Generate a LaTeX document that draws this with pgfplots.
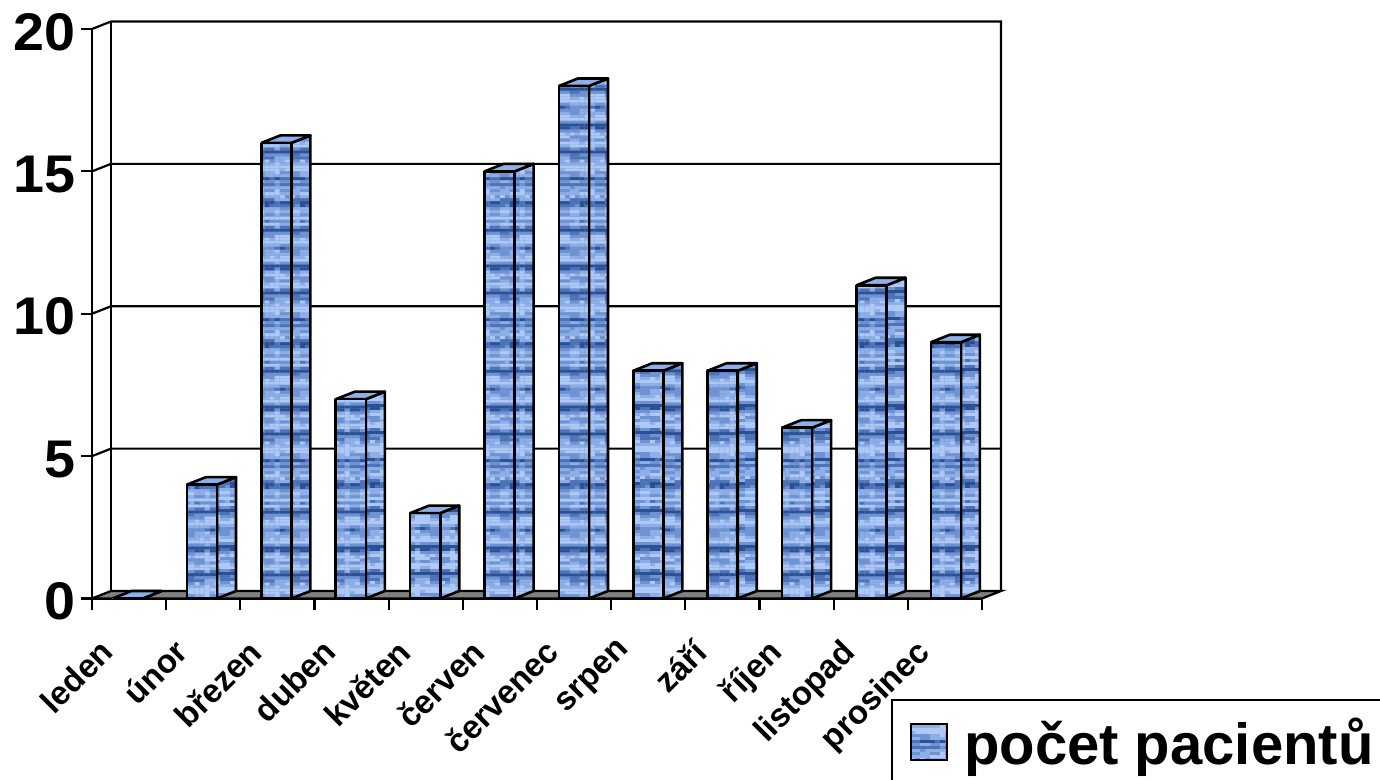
\documentclass[border=0pt]{standalone}
\usepackage{fontspec}
\setmainfont{Liberation Sans}
\newfontfamily\widefont[FakeStretch=1.05]{Liberation Sans}
\usepackage{pgfplots}
\usepackage{pgfplotstable}
\usetikzlibrary{patterns}
\pgfplotsset{compat=1.18}

% Monthly patient counts
\pgfplotstableread{
idx count
0   0
1   4
2   16
3   7
4   3
5   15
6   18
7   8
8   8
9   6
10  11
11  9
}\patients

% Mottled blue fill, built from small blocks with horizontal streaks
\definecolor{tex0}{HTML}{2B5094}
\definecolor{tex1}{HTML}{4C73B6}
\definecolor{tex2}{HTML}{6F93D2}
\definecolor{tex3}{HTML}{8DAEE6}
\definecolor{tex4}{HTML}{AFC9F6}
\pgfdeclarepatterninherentlycolored{mottle}{\pgfpointorigin}{\pgfpoint{35pt}{141pt}}{\pgfpoint{35pt}{141pt}}{%
  \pgfsetfillcolor{tex2}%
  \pgfpathrectangle{\pgfpointorigin}{\pgfpoint{35pt}{141pt}}%
  \pgfusepath{fill}%
  \foreach \r/\b in {0/3,1/4,2/2,3/1,4/0,5/2,6/3,7/4,8/3,9/3,10/1,11/2,12/0,13/2,14/3,15/4,16/4,17/3,18/3,19/2,20/1,21/0,22/2,23/3,24/4,25/2,26/3,27/4,28/3,29/1,30/0,31/2,32/4,33/3,34/2,35/3,36/1,37/2,38/4,39/4,40/3,41/1,42/0,43/2,44/3,45/2,46/4}{%
    \foreach \c in {0,...,6}{%
      \pgfmathtruncatemacro{\cc}{int(\c/2)}%
      \pgfmathtruncatemacro{\rr}{mod(\r*\r,50)}%
      \pgfmathtruncatemacro{\m}{mod(\cc*\cc*\cc*11+\rr*7+\cc*\r*23+3*\cc+\r+\c*(mod(\r,3)==0),7)}%
      \pgfmathtruncatemacro{\shade}{max(0,min(4,\b+int((\m+1)/3)-1))}%
      \pgfsetfillcolor{tex\shade}%
      \pgfpathrectangle{\pgfpoint{\c*5pt}{\r*3pt}}{\pgfpoint{5pt}{3pt}}%
      \pgfusepath{fill}%
    }%
  }%
}

\definecolor{floorgray}{HTML}{808080}
\definecolor{topblue}{HTML}{8FAFE8}

\pgfplotsset{
  frameline/.style={draw=black,line width=2.2pt,forget plot},
  underlay/.style={fill=tex2,draw=none,forget plot},
  face/.style={draw=black,line width=2.6pt,line join=round,pattern=mottle,forget plot},
  topface/.style={draw=black,line width=2.6pt,line join=round,fill=topblue,forget plot},
}

% Depth of the chart floor and of each column, in axis units
\newcommand{\depthx}{0.256}
\newcommand{\depthy}{0.263}

% One column: slot index and height
\newcommand{\drawcolumn}[2]{%
  \pgfmathsetmacro{\xa}{#1*1.003+0.278}%
  \pgfmathsetmacro{\xb}{\xa+0.405}%
  \pgfmathsetmacro{\xc}{\xb+\depthx}%
  \pgfmathsetmacro{\xd}{\xa+\depthx}%
  \pgfmathsetmacro{\yb}{#2+\depthy}%
  \addplot[underlay] coordinates {(\xb,0) (\xc,\depthy) (\xc,\yb) (\xb,#2) (\xb,0)};
  \addplot[face] coordinates {(\xb,0) (\xc,\depthy) (\xc,\yb) (\xb,#2) (\xb,0)};
  \addplot[topface] coordinates {(\xa,#2) (\xb,#2) (\xc,\yb) (\xd,\yb) (\xa,#2)};
  \addplot[underlay] coordinates {(\xa,0) (\xb,0) (\xb,#2) (\xa,#2) (\xa,0)};
  \addplot[face] coordinates {(\xa,0) (\xb,0) (\xb,#2) (\xa,#2) (\xa,0)};
}

\begin{document}
\begin{tikzpicture}[x=1pt,y=1pt]
\path[use as bounding box,clip] (0,0) rectangle (1380,779);
\begin{axis}[
  at={(92pt,180.5pt)},anchor=south west,
  scale only axis,width=890pt,height=569.5pt,
  xmin=0,xmax=12,ymin=0,ymax=20,
  clip=false,
  axis x line=bottom,axis y line=left,
  axis line style={-,line width=2.2pt,black},
  tick style={black,line width=2.2pt},
  major tick length=11pt,
  tick align=outside,
  xtick={0,...,12},xticklabels={},
  ytick={0,5,10,15,20},
  /pgf/number format/assume math mode=true,
  y tick label style={font=\widefont\bfseries\fontsize{53}{53}\selectfont,xshift=-5pt,yshift=-3pt,inner sep=0pt},
  extra x ticks={0.5,1.5,2.5,3.5,4.5,5.5,6.5,7.5,8.5,9.5,10.5,11.5},
  extra x tick labels={leden,únor,březen,duben,květen,červen,červenec,srpen,září,říjen,listopad,prosinec},
  extra x tick style={
    major tick length=0pt,
    tick label style={font=\bfseries\fontsize{33}{33}\selectfont,rotate=45,anchor=north east,xshift=-49pt,yshift=-5.5pt,inner sep=0pt},
  },
  legend style={
    at={(axis cs:10.773,-3.53)},anchor=north west,
    draw=black,line width=2.2pt,fill=white,
    inner xsep=18pt,inner ysep=16pt,
    font=\bfseries\fontsize{58}{58}\selectfont,
    /tikz/every even column/.append style={column sep=0pt},
  },
]
  \addlegendimage{legend image code/.code={
    \fill[tex2] (0pt,-18pt) rectangle (36pt,18pt);
    \draw[draw=black,line width=1.5pt,pattern=mottle] (0pt,-18pt) rectangle (36pt,18pt);
    \path[draw=none] (0pt,-1pt) rectangle (51pt,1pt);
  }}
  \addlegendentry{počet pacientů}

  % Floor, back wall and side wall of the chart box
  \addplot[frameline,fill=floorgray] coordinates {(0,0) (12,0) (12.256,0.263) (0.256,0.263) (0,0)};
  \addplot[frameline] coordinates {(0,20) (0.256,20.263) (12.256,20.263) (12.256,0.263)};
  \addplot[frameline] coordinates {(0.256,0.263) (0.256,20.263)};
  \addplot[frameline] coordinates {(0,5) (0.256,5.263) (12.256,5.263)};
  \addplot[frameline] coordinates {(0,10) (0.256,10.263) (12.256,10.263)};
  \addplot[frameline] coordinates {(0,15) (0.256,15.263) (12.256,15.263)};

  % Columns
  \pgfplotsinvokeforeach{0,...,11}{%
    \pgfplotstablegetelem{#1}{count}\of\patients
    \edef\thecount{\pgfplotsretval}%
    \drawcolumn{#1}{\thecount}%
  }
\end{axis}
\end{tikzpicture}
\end{document}
